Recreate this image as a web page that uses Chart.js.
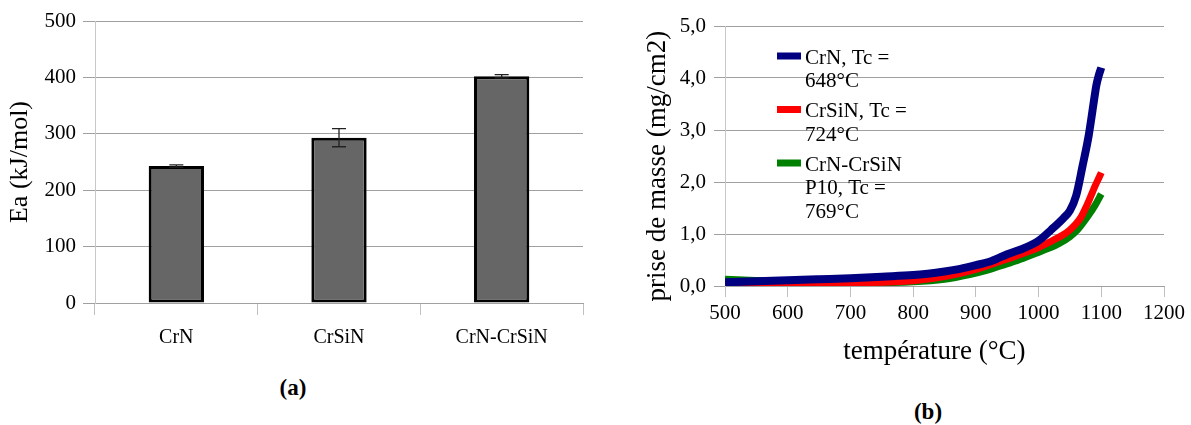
<!DOCTYPE html>
<html>
<head>
<meta charset="utf-8">
<script src="https://cdn.jsdelivr.net/npm/chart.js@4.4.1/dist/chart.umd.min.js"></script>
<style>
body { margin: 0; background: #fff; width: 1191px; height: 425px; overflow: hidden; position: relative; font-family: "Liberation Serif", serif; }
.box { position: absolute; top: 0; height: 370px; }
#wrapA { left: 0; width: 600px; }
#wrapB { left: 600px; width: 591px; }
.tag { position: absolute; font-weight: bold; font-size: 23px; transform: translate(-50%, -50%); }
</style>
</head>
<body>
<div class="box" id="wrapA"><canvas id="chartA"></canvas></div>
<div class="box" id="wrapB"><canvas id="chartB"></canvas></div>
<div class="tag" style="left:293px; top:388px">(a)</div>
<div class="tag" style="left:928px; top:412px">(b)</div>
<script>
// (a) énergie d'activation
var categories = ['CrN', 'CrSiN', 'CrN-CrSiN'];
var energies = [243, 293, 402];
var energyErrors = [2, 16, 3];

// (b) prise de masse vs température
var tempCrN = [500, 550, 600, 650, 700, 750, 800, 850, 875, 900, 925, 950, 975, 1000, 1020, 1040, 1050, 1060, 1070, 1080, 1090, 1092, 1096, 1100];
var masseCrN = [0.07, 0.09, 0.11, 0.13, 0.15, 0.18, 0.21, 0.28, 0.33, 0.40, 0.48, 0.61, 0.72, 0.87, 1.08, 1.31, 1.45, 1.74, 2.30, 2.90, 3.70, 3.85, 4.05, 4.20];
var tempCrSiN = [500, 600, 700, 800, 850, 900, 950, 1000, 1020, 1040, 1050, 1060, 1068, 1075, 1083, 1090, 1095, 1100];
var masseCrSiN = [0.03, 0.04, 0.06, 0.10, 0.18, 0.32, 0.52, 0.74, 0.86, 0.99, 1.08, 1.20, 1.33, 1.50, 1.72, 1.92, 2.05, 2.18];
var tempMulti = [500, 520, 560, 600, 700, 800, 850, 890, 920, 948, 975, 996, 1015, 1033, 1050, 1062, 1070, 1078, 1090, 1100];
var masseMulti = [0.13, 0.12, 0.10, 0.08, 0.06, 0.08, 0.13, 0.22, 0.31, 0.42, 0.53, 0.63, 0.72, 0.82, 0.95, 1.08, 1.20, 1.33, 1.55, 1.77];
var serieLabels = ['CrN, Tc = 648°C', 'CrSiN, Tc = 724°C', 'CrN-CrSiN P10, Tc = 769°C'];
var serieColors = ['#000080', '#ff0000', '#008000'];

var serif = '"Liberation Serif", "Times New Roman", serif';

function pts(xs, ys) {
    var out = [];
    for (var i = 0; i < xs.length; i++) out.push({x: xs[i], y: ys[i]});
    return out;
}

var errorBars = {
    id: 'errorBars',
    afterDatasetsDraw: function(chart) {
        var ctx = chart.ctx;
        var y = chart.scales.y;
        var meta = chart.getDatasetMeta(0);
        ctx.save();
        ctx.strokeStyle = '#222';
        ctx.lineWidth = 1.3;
        meta.data.forEach(function(bar, i) {
            var top = y.getPixelForValue(energies[i] + energyErrors[i]);
            var bot = y.getPixelForValue(energies[i] - energyErrors[i]);
            ctx.beginPath();
            ctx.moveTo(bar.x, top); ctx.lineTo(bar.x, bot);
            ctx.moveTo(bar.x - 7, top); ctx.lineTo(bar.x + 7, top);
            ctx.moveTo(bar.x - 7, bot); ctx.lineTo(bar.x + 7, bot);
            ctx.stroke();
        });
        ctx.restore();
    }
};

new Chart(document.getElementById('chartA'), {
    type: 'bar',
    data: {
        labels: categories,
        datasets: [{
            data: energies,
            backgroundColor: '#666666',
            borderColor: '#000',
            borderWidth: 3,
            borderSkipped: false,
            barPercentage: 0.34,
            categoryPercentage: 1
        }]
    },
    options: {
        responsive: true,
        maintainAspectRatio: false,
        animation: false,
        devicePixelRatio: 1,
        layout: {padding: {left: 0, right: 17, top: 21, bottom: 0}},
        plugins: {legend: {display: false}, tooltip: {enabled: false}},
        scales: {
            x: {
                afterFit: function(s) { s.height = 67; },
                grid: {drawOnChartArea: false, color: '#c0c0c0', tickLength: 12},
                border: {color: '#a0a0a0'},
                ticks: {color: '#000', padding: 11, font: {family: serif, size: 20}}
            },
            y: {
                min: 0, max: 500,
                afterFit: function(s) { s.width = 95; },
                grid: {color: '#a0a0a0', tickLength: 12},
                border: {color: '#c8c8c8'},
                ticks: {stepSize: 100, color: '#000', padding: 7, font: {family: serif, size: 21}},
                title: {display: true, text: 'Ea (kJ/mol)', color: '#000', padding: {top: 5, bottom: 0}, font: {family: serif, size: 26}}
            }
        }
    },
    plugins: [errorBars]
});

var wrapLegend = {
    id: 'wrapLegend',
    afterDraw: function(chart) {
        var ctx = chart.ctx;
        var area = chart.chartArea;
        var x0 = area.left + 52;
        var y = area.top + 32;
        ctx.save();
        ctx.font = '21px ' + serif;
        ctx.textBaseline = 'middle';
        ctx.fillStyle = '#000';
        chart.data.datasets.forEach(function(ds) {
            var words = ds.label.split(' ');
            var lines = [], cur = '';
            words.forEach(function(w) {
                var t = cur ? cur + ' ' + w : w;
                if (cur && ctx.measureText(t).width > 106) { lines.push(cur); cur = w; } else { cur = t; }
            });
            lines.push(cur);
            ctx.fillStyle = ds.borderColor;
            ctx.fillRect(x0, y - 5.5, 24, 7);
            ctx.fillStyle = '#000';
            lines.forEach(function(l, k) { ctx.fillText(l, x0 + 28, y + k * 23.5); });
            y += lines.length * 23.5 + 6.5;
        });
        ctx.restore();
    }
};

new Chart(document.getElementById('chartB'), {
    type: 'scatter',
    data: {
        datasets: [
            {label: serieLabels[0], data: pts(tempCrN, masseCrN), borderColor: serieColors[0], backgroundColor: serieColors[0], borderWidth: 8},
            {label: serieLabels[1], data: pts(tempCrSiN, masseCrSiN), borderColor: serieColors[1], backgroundColor: serieColors[1], borderWidth: 7},
            {label: serieLabels[2], data: pts(tempMulti, masseMulti), borderColor: serieColors[2], backgroundColor: serieColors[2], borderWidth: 7}
        ]
    },
    options: {
        responsive: true,
        maintainAspectRatio: false,
        animation: false,
        devicePixelRatio: 1,
        showLine: true,
        elements: {point: {radius: 0}, line: {cubicInterpolationMode: 'monotone'}},
        layout: {padding: {left: 0, right: 27, top: 26, bottom: 0}},
        plugins: {legend: {display: false}, tooltip: {enabled: false}},
        scales: {
            x: {
                type: 'linear', min: 500, max: 1200,
                afterFit: function(s) { s.height = 84; },
                grid: {drawOnChartArea: false, color: '#c0c0c0', tickLength: 11},
                border: {color: '#a0a0a0'},
                ticks: {stepSize: 100, color: '#000', padding: 4, font: {family: serif, size: 21},
                    callback: function(v) { return String(v); }},
                title: {display: true, text: 'température (°C)   ', color: '#000', padding: {top: 0, bottom: 2}, font: {family: serif, size: 27}}
            },
            y: {
                min: 0, max: 5,
                afterFit: function(s) { s.width = 125; },
                grid: {color: '#a0a0a0', tickLength: 11},
                border: {color: '#c8c8c8'},
                ticks: {stepSize: 1, color: '#000', padding: 8, font: {family: serif, size: 21},
                    callback: function(v) { return v.toFixed(1).replace('.', ','); }},
                title: {display: true, text: 'prise de masse (mg/cm2)   ', color: '#000', padding: {top: 42, bottom: 0}, font: {family: serif, size: 27}}
            }
        }
    },
    plugins: [wrapLegend]
});
</script>
</body>
</html>
